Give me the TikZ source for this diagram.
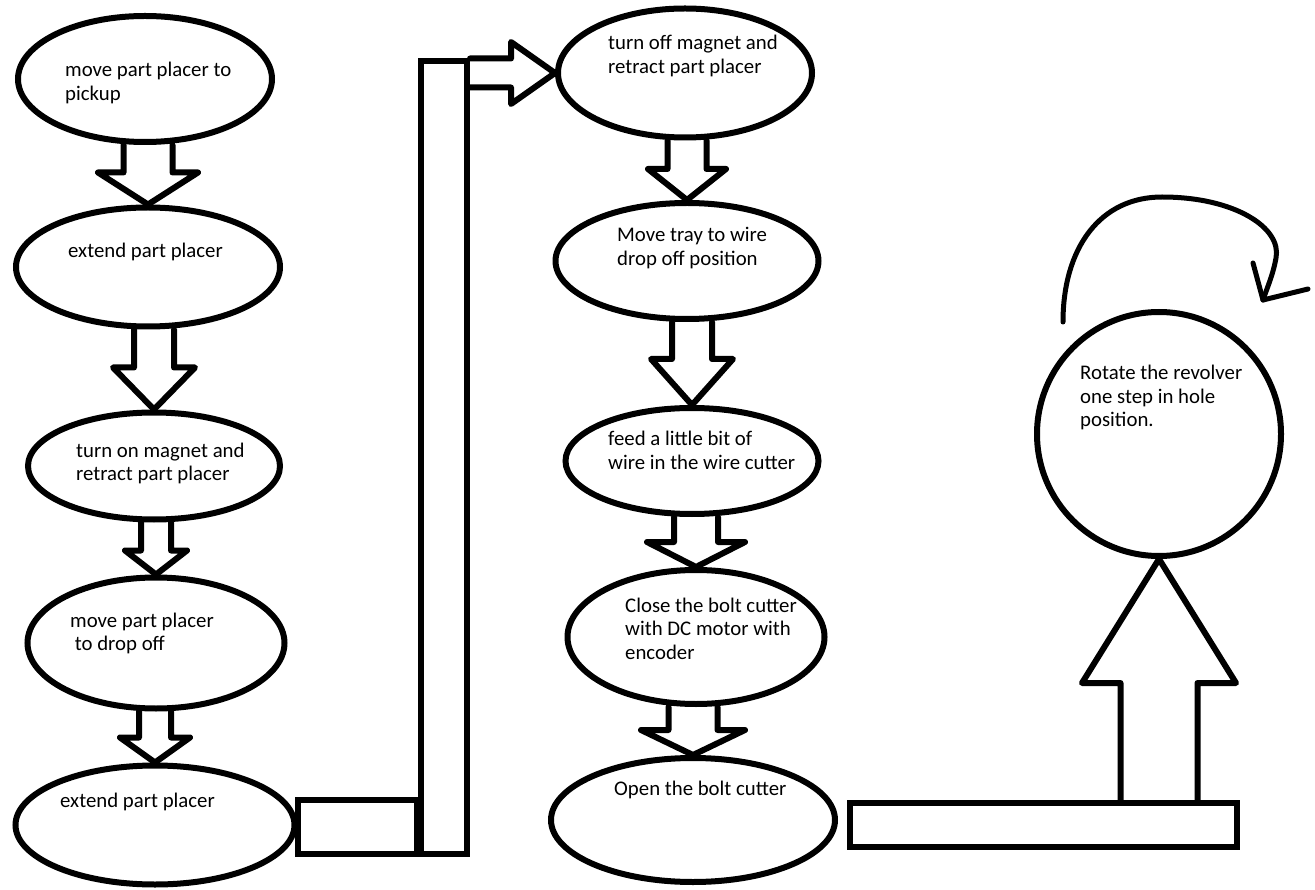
\documentclass[tikz,border=0pt]{standalone}
\usepackage{fontspec}
\setmainfont{Carlito}
\usetikzlibrary{shapes.geometric,calc}
\newcommand{\ml}[1]{\begin{tabular}[t]{@{}l@{}}#1\end{tabular}}
% #1 upper node, #2 lower node, #3 shaft half width, #4 head half width, #5 head height
\newcommand{\blkdown}[5]{%
  \coordinate (#1-top) at (#2.north |- #1.south);
  \draw[blk] ($(#1-top)+(-#3,0)$) -- ($(#2.north)+(-#3,-#5)$) -- ($(#2.north)+(-#4,-#5)$)
    -- (#2.north) -- ($(#2.north)+(#4,-#5)$) -- ($(#2.north)+(#3,-#5)$) -- ($(#1-top)+(#3,0)$);
}
\begin{document}
\begin{tikzpicture}[x=1pt,y=-1pt,
  ell/.style={ellipse,draw,line width=6pt,inner sep=0pt},
  blk/.style={draw,line width=6pt,line join=round,line cap=round},
  box/.style={rectangle,draw,line width=6pt,inner sep=0pt},
  curv/.style={draw,line width=5pt,line cap=round,line join=round},
  txt/.style={anchor=base west,inner sep=0pt,font=\fontsize{20.8}{23.5}\selectfont,text=black}]
\useasboundingbox (0,0) rectangle (1315,890);

% left column
\node[ell,minimum width=254,minimum height=126] (e1) at (145,79) {};
\node[ell,minimum width=264,minimum height=119] (e2) at (148,267) {};
\node[ell,minimum width=252,minimum height=107] (e3) at (154,466) {};
\node[ell,minimum width=257,minimum height=131] (e4) at (156,643) {};
\node[ell,minimum width=279,minimum height=119] (e5) at (155,825) {};

% right column
\node[ell,minimum width=254,minimum height=129] (e6) at (685,73) {};
\node[ell,minimum width=263,minimum height=116] (e7) at (687,261) {};
\node[ell,minimum width=253,minimum height=106] (e8) at (692,461) {};
\node[ell,minimum width=257,minimum height=134] (e9) at (696,637) {};
\node[ell,minimum width=284,minimum height=124] (e10) at (693,820) {};

% revolver circle
\node[circle,draw,line width=6pt,inner sep=0pt,minimum size=244] (c) at (1159,434) {};

% texts
\node[txt] (t1) at (65,77) {\ml{move part placer to\\pickup}};
\node[txt] (t2) at (68,258) {extend part placer};
\node[txt] (t3) at (76,457) {\ml{turn on magnet and\\retract part placer}};
\node[txt] (t4) at (70,627) {\ml{move part placer\\\ to drop off}};
\node[txt] (t5) at (60,807) {extend part placer};
\node[txt] (t6) at (608,50) {\ml{turn off magnet and\\retract part placer}};
\node[txt] (t7) at (617,242) {\ml{Move tray to wire\\drop off position}};
\node[txt] (t8) at (608,446) {\ml{feed a little bit of\\wire in the wire cutter}};
\node[txt] (t9) at (625,612) {\ml{Close the bolt cutter\\with DC motor with\\encoder}};
\node[txt] (t10) at (614,795) {Open the bolt cutter};
\node[txt] (t11) at (1080,380) {\ml{Rotate the revolver\\one step in hole\\position.}};

% block arrows
\blkdown{e1}{e2}{24.5}{50}{32}
\blkdown{e2}{e3}{20}{41}{42}
\blkdown{e3}{e4}{15}{31}{24}
\blkdown{e4}{e5}{16}{35}{25}
\blkdown{e6}{e7}{19.5}{39}{31}
\blkdown{e7}{e8}{20}{41}{46}
\blkdown{e8}{e9}{22}{49}{25}
\blkdown{e9}{e10}{24.5}{52}{25}

% connector between columns
\node[box,minimum width=119,minimum height=54] (r1) at (357.5,827) {};
\node[box,minimum width=46,minimum height=793] (r2) at (444,457.5) {};
\coordinate (a0) at (r2.east |- e6.west);
\draw[blk] ($(a0)+(0,-14.5)$) -- ($(e6.west)+(-44,-14.5)$) -- ($(e6.west)+(-44,-31)$)
  -- (e6.west) -- ($(e6.west)+(-44,31)$) -- ($(e6.west)+(-44,14.5)$) -- ($(a0)+(0,14.5)$);

% connector to revolver
\node[box,minimum width=387,minimum height=44] (r3) at (1043.5,825) {};
\coordinate (b0) at (c.south |- r3.north);
\draw[blk] ($(b0)+(-38.5,0)$) -- ($(c.south)+(-38.5,124)$) -- ($(c.south)+(-77,124)$)
  -- (c.south) -- ($(c.south)+(77,124)$) -- ($(c.south)+(38.5,124)$) -- ($(b0)+(38.5,0)$);

% rotation arrow
\coordinate (q0) at (1063,322);
\coordinate (qm) at (1162,197);
\coordinate (q1) at (1263,300);
\coordinate (h1) at (1253,263);
\coordinate (h2) at (1308,289);
\draw[curv] (q0) .. controls (1063,248) and (1100,197) .. (qm)
  .. controls (1235,197) and (1282,228) .. (1276,258)
  .. controls (1273,275) and (1267,288) .. (q1);
\draw[curv] (h1) -- (q1) -- (h2);
\end{tikzpicture}
\end{document}
